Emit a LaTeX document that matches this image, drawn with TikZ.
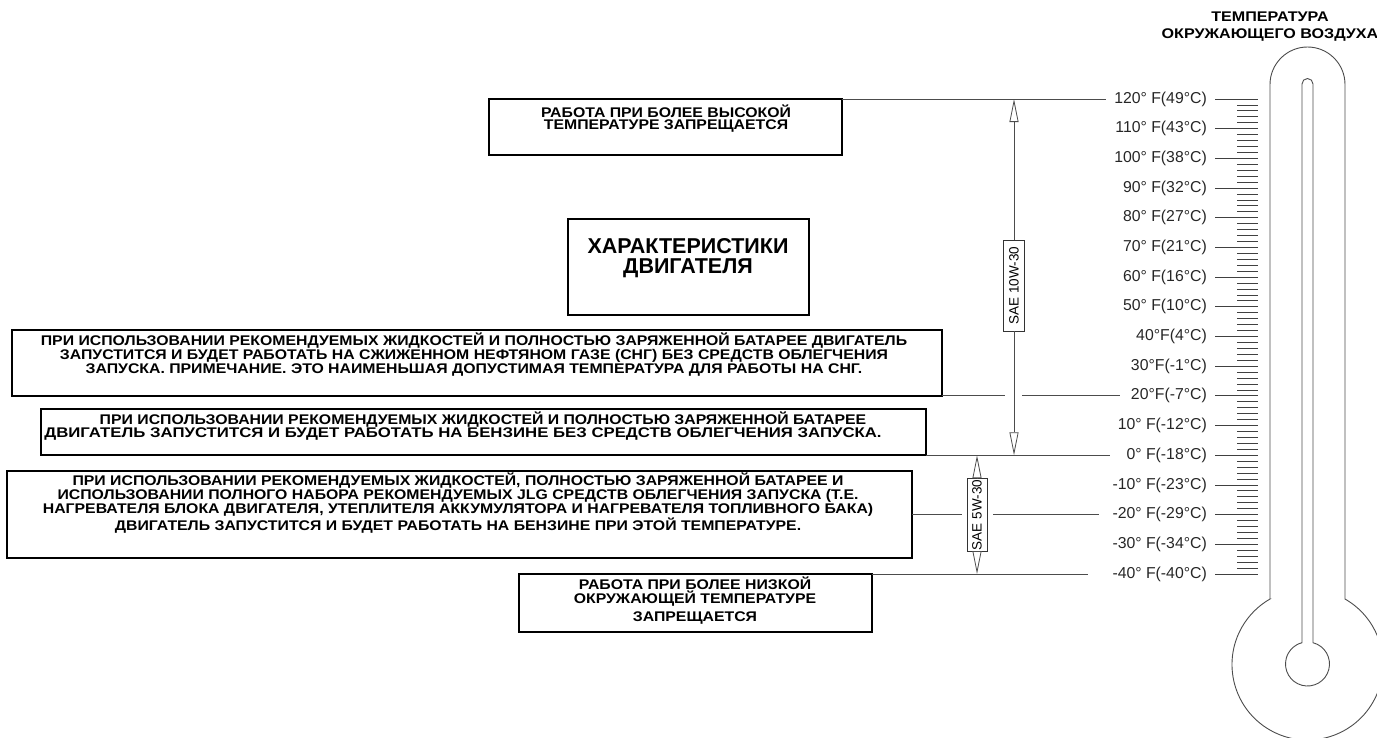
\documentclass[tikz,border=0pt]{standalone}
\usepackage{fontspec}
\setmainfont{Liberation Sans}
\newfontfamily\bx[FakeStretch=1.13]{Liberation Sans}
\newfontfamily\bt[FakeStretch=1.15]{Liberation Sans}
\usetikzlibrary{arrows.meta}
\begin{document}
\begin{tikzpicture}[x=1pt,y=-1pt,
  box/.style={draw=black, line width=1.6pt, inner sep=0pt, outer sep=0pt},
  btext/.style={font=\bx\bfseries\fontsize{14}{11.8}\selectfont, align=center, inner sep=0pt},
  lbl/.style={font=\fontsize{15.8}{18}\selectfont, text=black!85, anchor=east, inner sep=0pt},
  conn/.style={draw=black!70, line width=0.9pt},
  tick/.style={draw=black!75, line width=0.8pt},
  therm/.style={draw=black!70, line width=0.9pt},
  sae/.style={draw=black!80, line width=0.8pt, fill=white, rotate=90, font=\fontsize{13.5}{15}\selectfont, inner sep=1pt},
  saearr/.style={draw=black!70, line width=0.9pt, -{Triangle[fill=white, length=23pt, width=9pt, line width=0.8pt]}}
]
\useasboundingbox (0,0) rectangle (1377,737);
\clip (0,0) rectangle (1377,737);

% title
\node[font=\bt\bfseries\fontsize{14}{17}\selectfont, align=center, inner sep=0pt] (title) at (1270,27) {ТЕМПЕРАТУРА\\ОКРУЖАЮЩЕГО ВОЗДУХА};

% thermometer
\draw[therm] (1270,599) -- (1270,84.5) arc[start angle=180, end angle=360, radius=37.5] -- (1345,599) arc[start angle=-60.22, end angle=240.22, radius=75.5] -- cycle;
\draw[therm] (1302,642.7) -- (1302,84) arc[start angle=180, end angle=360, radius=5.5] -- (1313,642.7) arc[start angle=-75.52, end angle=255.52, radius=22] -- cycle;

% ticks
\foreach \k in {0,...,80} {
  \pgfmathsetmacro\yy{99+5.9375*\k}
  \pgfmathtruncatemacro\m{mod(\k,5)}
  \ifnum\m=0
    \draw[tick] (1215,\yy) -- (1258,\yy);
  \else
    \draw[tick] (1237,\yy) -- (1258,\yy);
  \fi
}

% labels
\foreach \i/\t in {0/{120° F(49°C)},1/{110° F(43°C)},2/{100° F(38°C)},3/{90° F(32°C)},4/{80° F(27°C)},5/{70° F(21°C)},6/{60° F(16°C)},7/{50° F(10°C)},8/{40°F(4°C)},9/{30°F(-1°C)},10/{20°F(-7°C)},11/{10° F(-12°C)},12/{0° F(-18°C)},13/{-10° F(-23°C)},14/{-20° F(-29°C)},15/{-30° F(-34°C)},16/{-40° F(-40°C)}} {
  \node[lbl] (L\i) at (1207,{99+29.6875*\i}) {\t};
}

% boxes
\node[box, minimum width=353pt, minimum height=56pt] (boxhi) at (665.5,127) {};
\node[box, minimum width=241pt, minimum height=96pt] (boxchar) at (688.5,267) {};
\node[box, minimum width=930pt, minimum height=65.9pt] (boxcng) at (477,362.95) {};
\node[box, minimum width=885pt, minimum height=46.25pt] (boxpet) at (483.5,432.1) {};
\node[box, minimum width=905pt, minimum height=87pt] (boxjlg) at (459.5,514.6) {};
\node[box, minimum width=353pt, minimum height=58pt] (boxlow) at (695.5,603) {};

% texts
\node[btext] (thi) at (666,118.5) {РАБОТА ПРИ БОЛЕЕ ВЫСОКОЙ\\ТЕМПЕРАТУРЕ ЗАПРЕЩАЕТСЯ};
\node[font=\bfseries\fontsize{21.5}{20}\selectfont, align=center, inner sep=0pt] (tchar) at (688,258) {ХАРАКТЕРИСТИКИ\\ДВИГАТЕЛЯ};
\node[btext] (tcng) at (474,354.5) {ПРИ ИСПОЛЬЗОВАНИИ РЕКОМЕНДУЕМЫХ ЖИДКОСТЕЙ И ПОЛНОСТЬЮ ЗАРЯЖЕННОЙ БАТАРЕЕ ДВИГАТЕЛЬ\\ЗАПУСТИТСЯ И БУДЕТ РАБОТАТЬ НА СЖИЖЕННОМ НЕФТЯНОМ ГАЗЕ (СНГ) БЕЗ СРЕДСТВ ОБЛЕГЧЕНИЯ\\ЗАПУСКА. ПРИМЕЧАНИЕ. ЭТО НАИМЕНЬШАЯ ДОПУСТИМАЯ ТЕМПЕРАТУРА ДЛЯ РАБОТЫ НА СНГ.};
\node[btext] (tpet) at (473,426) {\hspace*{20pt}ПРИ ИСПОЛЬЗОВАНИИ РЕКОМЕНДУЕМЫХ ЖИДКОСТЕЙ И ПОЛНОСТЬЮ ЗАРЯЖЕННОЙ БАТАРЕЕ\\\scalebox{1.06}[1]{ДВИГАТЕЛЬ ЗАПУСТИТСЯ И БУДЕТ РАБОТАТЬ НА БЕНЗИНЕ БЕЗ СРЕДСТВ ОБЛЕГЧЕНИЯ ЗАПУСКА.}\hspace*{20pt}};
\node[btext] (tjlg) at (458,503) {ПРИ ИСПОЛЬЗОВАНИИ РЕКОМЕНДУЕМЫХ ЖИДКОСТЕЙ, ПОЛНОСТЬЮ ЗАРЯЖЕННОЙ БАТАРЕЕ И\\ИСПОЛЬЗОВАНИИ ПОЛНОГО НАБОРА РЕКОМЕНДУЕМЫХ JLG СРЕДСТВ ОБЛЕГЧЕНИЯ ЗАПУСКА (Т.Е.\\НАГРЕВАТЕЛЯ БЛОКА ДВИГАТЕЛЯ, УТЕПЛИТЕЛЯ АККУМУЛЯТОРА И НАГРЕВАТЕЛЯ ТОПЛИВНОГО БАКА)\\ДВИГАТЕЛЬ ЗАПУСТИТСЯ И БУДЕТ РАБОТАТЬ НА БЕНЗИНЕ ПРИ ЭТОЙ ТЕМПЕРАТУРЕ.};
\node[btext] (tlow) at (695,600.5) {РАБОТА ПРИ БОЛЕЕ НИЗКОЙ\\ОКРУЖАЮЩЕЙ ТЕМПЕРАТУРЕ\\[4pt]ЗАПРЕЩАЕТСЯ};

% connectors
\draw[conn, shorten >=8pt] (boxhi.north east) -- (boxhi.north east -| L0.west);
\coordinate (g20a) at (1005,395.9);
\coordinate (g20b) at (1022,395.9);
\draw[conn] (boxcng.south east) -- (g20a);
\draw[conn, shorten >=11pt] (g20b) -- (g20b -| L10.west);
\draw[conn, shorten >=16pt] (boxpet.south east) -- (boxpet.south east -| L12.west);
\coordinate (g20ma) at (962,514.6);
\coordinate (g20mb) at (993,514.6);
\draw[conn] (boxjlg.east) -- (g20ma);
\draw[conn, shorten >=13pt] (g20mb) -- (g20mb -| L14.west);
\draw[conn, shorten >=24pt] (boxlow.north east) -- (boxlow.north east -| L16.west);

% SAE ranges
\node[sae, minimum width=91pt, minimum height=21pt] (sae10) at (1014,285.5) {SAE 10W-30};
\coordinate (a10t) at (1014,99);
\coordinate (a10b) at (1014,455.25);
\draw[saearr] (sae10) -- (a10t);
\draw[saearr] (sae10) -- (a10b);
\node[sae, minimum width=72pt, minimum height=20pt] (sae5) at (977,515) {SAE 5W-30};
\coordinate (a5t) at (977,455.25);
\coordinate (a5b) at (977,574);
\draw[saearr] (sae5) -- (a5t);
\draw[saearr] (sae5) -- (a5b);
\end{tikzpicture}
\end{document}
